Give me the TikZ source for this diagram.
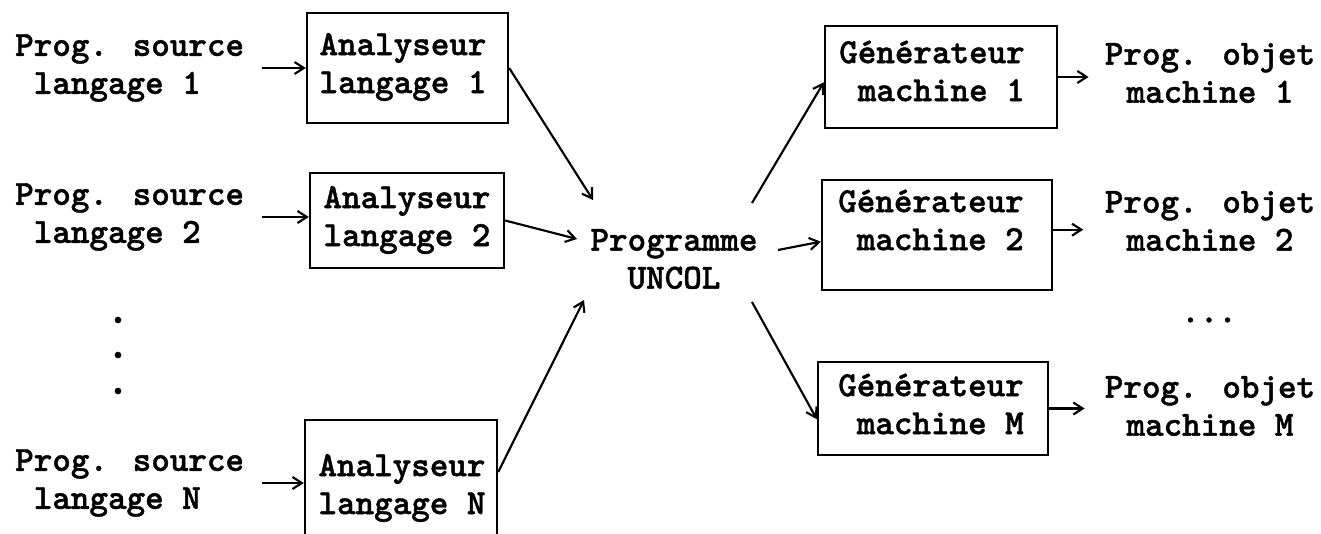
\documentclass[tikz,border=0pt]{standalone}
\usepackage{fontspec}
\usetikzlibrary{arrows.meta}
\newfontfamily\typefont{lmmonolt10-bold.otf}[FakeBold=1.2]
\begin{document}
\begin{tikzpicture}[x=0.75pt,y=-0.75pt,
  txt/.style={inner sep=0pt, font={\typefont\fontsize{26.5pt}{28.5pt}\selectfont}},
  box/.style={draw, line width=1.8pt, inner sep=0pt},
  arr/.style={-{Straight Barb[length=7pt,width=9pt]}, line width=1.6pt},
  dot/.style={circle, fill, inner sep=0pt, minimum size=5pt}]
\useasboundingbox (0,0) rectangle (1321,533);
\clip (0,0) rectangle (1321,533);

% source programs
\node[txt, align=left, anchor=west] (s1) at (15,68) {Prog. source\\\hphantom{x}langage 1};
\node[txt, align=left, anchor=west] (s2) at (15,217) {Prog. source\\\hphantom{x}langage 2};
\node[txt, align=left, anchor=west] (sN) at (15,483) {Prog. source\\\hphantom{x}langage N};
\node[dot] (d1) at (118,320) {};
\node[dot] (d2) at (118,355) {};
\node[dot] (d3) at (118,391) {};

% front ends
\node[box, minimum width=150.75pt, minimum height=82.5pt] (A1) at (407.5,68) {};
\node[box, minimum width=145.5pt, minimum height=71.25pt] (A2) at (407,220.5) {};
\node[box, minimum width=144pt, minimum height=105pt] (AN) at (401,490) {};
\node[txt, align=center] (a1t) at (403,67) {Analyseur\\langage 1};
\node[txt, align=center] (a2t) at (407,220) {Analyseur\\langage 2};
\node[txt, align=center] (aNt) at (402,488) {Analyseur\\langage N};

% intermediate program
\node[txt, align=center] (U) at (674,259) {Programme\\UNCOL};
\coordinate (u1) at (593,200);
\coordinate (u2) at (577,239);
\coordinate (uN) at (584,300);
\coordinate (v1) at (752,203);
\coordinate (v2) at (778,250);
\coordinate (vM) at (752,302);

% back ends
\node[box, minimum width=174pt, minimum height=76.5pt] (G1) at (941,77) {};
\node[box, minimum width=172.5pt, minimum height=82.5pt] (G2) at (937,235) {};
\node[box, minimum width=172.5pt, minimum height=69.75pt] (GM) at (933,408.5) {};
\node[txt, align=left] (g1t) at (932,71) {Générateur\\\hphantom{x}machine 1};
\node[txt, align=left] (g2t) at (931,220) {Générateur\\\hphantom{x}machine 2};
\node[txt, align=left] (gMt) at (931,404) {Générateur\\\hphantom{x}machine M};

% object programs
\node[txt, align=center] (O1) at (1210,73) {Prog. objet\\machine 1};
\node[txt, align=center] (O2) at (1210,221) {Prog. objet\\machine 2};
\node[txt, align=center] (OM) at (1210,406) {Prog. objet\\machine M};
\node[txt] (odots) at (1209,320) {...};

% connectors
\draw[arr, shorten <=13pt] (s1.east) -- (s1.east -| A1.west);
\draw[arr, shorten <=13pt] (s2.east) -- (s2.east -| A2.west);
\draw[arr, shorten <=13pt] (sN.east) -- (sN.east -| AN.west);
\draw[arr] (A1.east) -- (u1);
\draw[arr] (A2.east) -- (u2);
\draw[arr] ([yshift=13.5pt]AN.east) -- (uN);
\draw[arr] (v1) -- ([yshift=-4pt]G1.west);
\draw[arr] (v2) -- ([yshift=-5pt]G2.west);
\draw[arr] (vM) -- ([yshift=-8pt]GM.west);
\draw[arr, shorten >=12pt] (G1.east) -- (G1.east -| O1.west);
\draw[arr, shorten >=16pt] ([yshift=4pt]G2.east) -- ([yshift=4pt]G2.east -| O2.west);
\draw[arr, shorten >=15pt] (GM.east) -- (GM.east -| OM.west);
\end{tikzpicture}
\end{document}
